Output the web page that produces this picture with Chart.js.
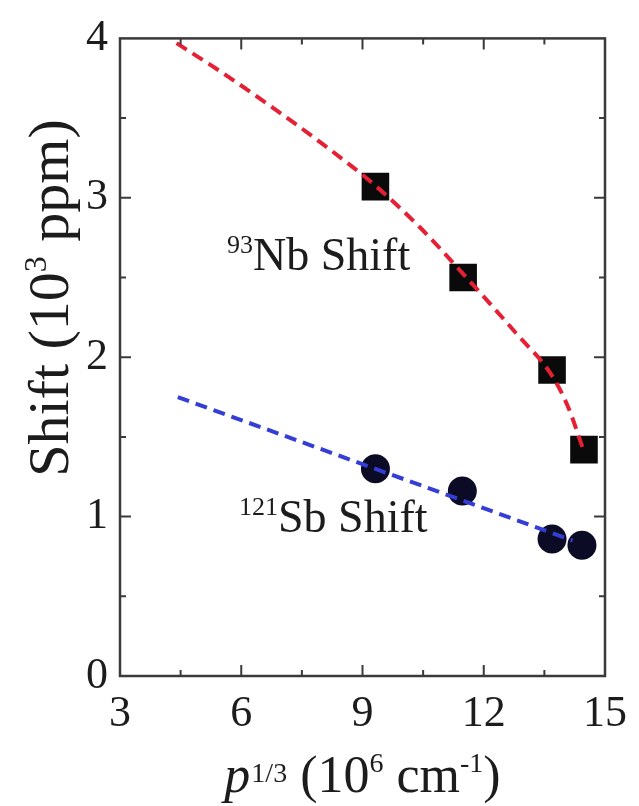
<!DOCTYPE html>
<html>
<head>
<meta charset="utf-8">
<script src="https://cdn.jsdelivr.net/npm/chart.js@4.4.0/dist/chart.umd.min.js"></script>
<style>
    html, body { margin: 0; padding: 0; background: #fff; }
    canvas { display: block; }
</style>
</head>
<body>
<canvas id="grafico" width="639" height="806"></canvas>
<script>
// Datos
const nb_x = [9.32, 11.49, 13.69, 14.48]
const nb_y = [3.07, 2.50, 1.92, 1.42]
const sb_x = [9.32, 11.47, 13.69, 14.43]
const sb_y = [1.30, 1.16, 0.86, 0.82]

// curva de ajuste del Nb (roja discontinua)
const ajuste_nb_x = [4.4, 5.5, 6.7, 8.0, 9.3, 10.4, 11.5, 12.8, 13.7, 14.1, 14.45]
const ajuste_nb_y = [3.97, 3.79, 3.58, 3.34, 3.08, 2.82, 2.52, 2.15, 1.88, 1.68, 1.43]

// recta de ajuste del Sb (azul discontinua)
const ajuste_sb_x = [4.43, 14.2]
const ajuste_sb_y = [1.75, 0.85]

const ticks_x = [3, 6, 9, 12, 15]
const ticks_y = [0, 1, 2, 3, 4]

const FUENTE = '"Liberation Serif", "Times New Roman", serif'
const COLOR_TEXTO = '#1c1c1c'

function puntos(xs, ys) {
    return xs.map((x, i) => ({ x: x, y: ys[i] }))
}

// dibuja un texto hecho de partes (normal, cursiva, superindice)
function medir_partes(ctx, partes) {
    let total = 0
    for (const p of partes) {
        ctx.font = `${p.italic ? 'italic ' : ''}${p.size}px ${FUENTE}`
        p.ancho = ctx.measureText(p.t).width + (p.extra || 0)
        total += p.ancho
    }
    return total
}

function dibujar_partes(ctx, partes, x, y, centrado) {
    const total = medir_partes(ctx, partes)
    let cx = centrado ? x - total / 2 : x
    ctx.fillStyle = COLOR_TEXTO
    ctx.textBaseline = 'alphabetic'
    ctx.textAlign = 'left'
    for (const p of partes) {
        ctx.font = `${p.italic ? 'italic ' : ''}${p.size}px ${FUENTE}`
        ctx.fillText(p.t, cx + (p.extra || 0), y - (p.sube || 0))
        cx += p.ancho
    }
}

const pluginMarco = {
    id: 'marco',
    afterDraw(chart) {
        const ctx = chart.ctx
        const a = chart.chartArea
        const sx = chart.scales.x
        const sy = chart.scales.y
        ctx.save()

        // marco
        ctx.strokeStyle = '#3a3a3a'
        ctx.lineWidth = 2.5
        ctx.strokeRect(a.left, a.top, a.right - a.left, a.bottom - a.top)

        // marcas hacia dentro, mayores y menores
        ctx.lineWidth = 2
        const pasoX = ticks_x[1] - ticks_x[0]
        for (let v = ticks_x[0] + pasoX / 2; v < ticks_x[ticks_x.length - 1] - 0.01; v += pasoX / 2) {
            const largo = Math.abs((v - ticks_x[0]) % pasoX) < 0.01 ? 11 : 6
            const px = sx.getPixelForValue(v)
            ctx.beginPath()
            ctx.moveTo(px, a.bottom); ctx.lineTo(px, a.bottom - largo)
            ctx.moveTo(px, a.top); ctx.lineTo(px, a.top + largo)
            ctx.stroke()
        }
        const pasoY = ticks_y[1] - ticks_y[0]
        for (let v = ticks_y[0] + pasoY / 2; v < ticks_y[ticks_y.length - 1] - 0.01; v += pasoY / 2) {
            const largo = Math.abs((v - ticks_y[0]) % pasoY) < 0.01 ? 11 : 6
            const py = sy.getPixelForValue(v)
            ctx.beginPath()
            ctx.moveTo(a.left, py); ctx.lineTo(a.left + largo, py)
            ctx.moveTo(a.right, py); ctx.lineTo(a.right - largo, py)
            ctx.stroke()
        }

        // etiquetas dentro del grafico
        dibujar_partes(ctx, [
            { t: '93', size: 26, sube: 17 },
            { t: 'Nb Shift', size: 46 }
        ], 227, 270, false)
        dibujar_partes(ctx, [
            { t: '121', size: 26, sube: 17 },
            { t: 'Sb Shift', size: 46 }
        ], 239, 532, false)

        // titulo eje x
        dibujar_partes(ctx, [
            { t: 'p', size: 52, italic: true },
            { t: '1/3', size: 28, sube: 10, extra: 1 },
            { t: ' (10', size: 52 },
            { t: '6', size: 28, sube: 20 },
            { t: ' cm', size: 52 },
            { t: '-1', size: 28, sube: 20 },
            { t: ')', size: 52 }
        ], (a.left + a.right) / 2, 792, true)

        // titulo eje y
        ctx.translate(68, 298)
        ctx.rotate(-Math.PI / 2)
        dibujar_partes(ctx, [
            { t: 'Shift (10', size: 58 },
            { t: '3', size: 32, sube: 22 },
            { t: ' ppm)', size: 58 }
        ], 0, 0, true)

        ctx.restore()
    }
}

const config = {
    type: 'scatter',
    data: {
        datasets: [
            {
                label: 'ajuste Nb',
                data: puntos(ajuste_nb_x, ajuste_nb_y),
                showLine: true,
                borderColor: 'rgb(230, 32, 52)',
                borderWidth: 4,
                borderDash: [12, 7],
                cubicInterpolationMode: 'monotone',
                pointRadius: 0,
                order: 0
            },
            {
                label: 'ajuste Sb',
                data: puntos(ajuste_sb_x, ajuste_sb_y),
                showLine: true,
                borderColor: 'rgb(52, 62, 212)',
                borderWidth: 4,
                borderDash: [12, 7],
                pointRadius: 0,
                order: 0
            },
            {
                label: '93Nb Shift',
                data: puntos(nb_x, nb_y),
                pointStyle: 'rect',
                pointRadius: 19.5,
                backgroundColor: '#0a0a0a',
                borderColor: '#0a0a0a',
                borderWidth: 0,
                order: 1
            },
            {
                label: '121Sb Shift',
                data: puntos(sb_x, sb_y),
                pointStyle: 'circle',
                pointRadius: 14.5,
                backgroundColor: '#0b0b26',
                borderColor: '#0b0b26',
                borderWidth: 0,
                order: 1
            }
        ]
    },
    options: {
        responsive: false,
        animation: false,
        layout: { padding: { top: 29, right: 33, left: 0, bottom: 0 } },
        plugins: { legend: { display: false }, tooltip: { enabled: false } },
        scales: {
            x: {
                type: 'linear',
                min: ticks_x[0],
                max: ticks_x[ticks_x.length - 1],
                grid: { display: false, drawTicks: false },
                border: { display: false },
                ticks: {
                    stepSize: ticks_x[1] - ticks_x[0],
                    autoSkip: false,
                    maxRotation: 0,
                    padding: 12,
                    color: COLOR_TEXTO,
                    font: { family: FUENTE, size: 44 }
                },
                afterFit: (scale) => { scale.height = 130 }
            },
            y: {
                type: 'linear',
                min: ticks_y[0],
                max: ticks_y[ticks_y.length - 1],
                grid: { display: false, drawTicks: false },
                border: { display: false },
                ticks: {
                    stepSize: ticks_y[1] - ticks_y[0],
                    padding: 12,
                    color: COLOR_TEXTO,
                    font: { family: FUENTE, size: 44 }
                },
                afterFit: (scale) => { scale.width = 120 }
            }
        }
    },
    plugins: [pluginMarco]
}

const myChart = new Chart(document.getElementById('grafico'), config)
</script>
</body>
</html>
